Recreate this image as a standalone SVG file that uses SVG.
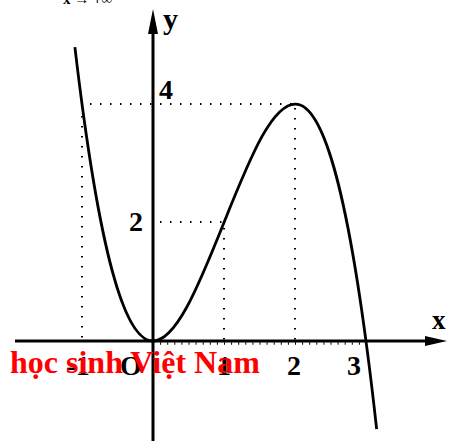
<svg xmlns="http://www.w3.org/2000/svg" width="452" height="441" viewBox="0 0 452 441">
  <style>
    .axis { stroke: #000; stroke-width: 3; fill: none; }
    .guide { stroke: #000; stroke-width: 2; fill: none; stroke-dasharray: 1.5 8.5; }
    .curve { stroke: #000; stroke-width: 2.8; fill: none; }
    .lbl { font-family: "Liberation Serif", "Times New Roman", serif; font-weight: bold; fill: #000; }
    .wm { font-family: "Liberation Serif", "Times New Roman", serif; font-weight: bold; fill: #ff0000; font-size: 32px; }
  </style>
  <rect width="452" height="441" fill="#fff"/>
  <g id="top-text">
    <text class="lbl" x="63" y="4" font-size="15" font-weight="normal">x → +∞</text>
  </g>
  <g id="guides">
    <path class="guide" d="M82,106 V341"/>
    <path class="guide" d="M90,104 H295"/>
    <path class="guide" d="M295,108 V341"/>
    <path class="guide" d="M160,222 H224"/>
    <path class="guide" d="M224,228 V341"/>
    <line x1="153" y1="343.5" x2="366" y2="343.5" stroke="#000" stroke-width="2.5" stroke-dasharray="1 6.1"/>
  </g>
  <g id="axes">
    <line class="axis" x1="15" y1="341" x2="430" y2="341"/>
    <polygon points="447,341 425,336 425,346" fill="#000"/>
    <line class="axis" x1="153" y1="441" x2="153" y2="30"/>
    <polygon points="153,9 148,34 158,34" fill="#000"/>
  </g>
  <g id="curve">
    <path class="curve" d="M74.9,47.06 C175.48,905.74 276.07,-483.01 376.65,429.19"/>
  </g>
  <g id="labels">
    <text class="lbl" x="163" y="29" font-size="30">y</text>
    <text class="lbl" x="432" y="329" font-size="27">x</text>
    <text class="lbl" x="159" y="99" font-size="28">4</text>
    <text class="lbl" x="129" y="231" font-size="28">2</text>
    <text class="lbl" x="78" y="375" font-size="28" text-anchor="middle">-1</text>
    <text class="lbl" x="131" y="375" font-size="28" text-anchor="middle">O</text>
    <text class="lbl" x="224" y="375" font-size="28" text-anchor="middle">1</text>
    <text class="lbl" x="294" y="375" font-size="28" text-anchor="middle">2</text>
    <text class="lbl" x="354" y="375" font-size="28" text-anchor="middle">3</text>
  </g>
  <g id="watermark">
    <text class="wm" x="10" y="373">học sinh Việt Nam</text>
  </g>
</svg>
